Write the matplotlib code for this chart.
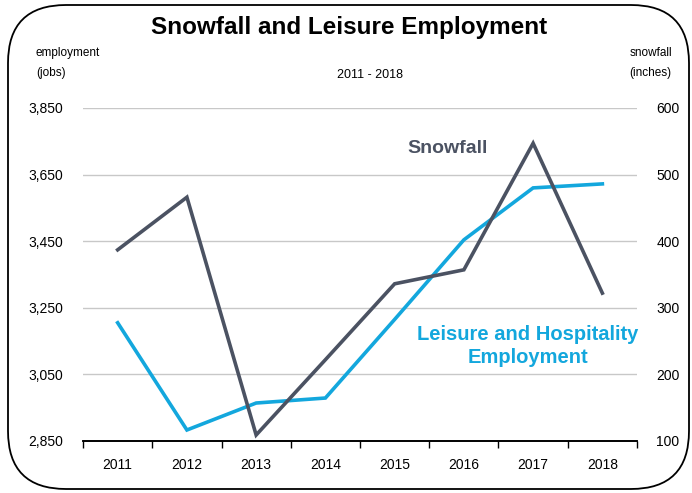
import matplotlib.pyplot as plt
from matplotlib.patches import FancyBboxPatch
from matplotlib.transforms import IdentityTransform
import numpy as np

#chart data
years = ['2011', '2012', '2013', '2014', '2015', '2016', '2017', '2018']
employment = [3205, 2883, 2964, 2979, 3215, 3454, 3610, 3622]  #jobs
snowfall = [387, 466, 109, 222, 336, 357, 547, 322]  #inches
emp_ticks = [2850, 3050, 3250, 3450, 3650, 3850]
snow_ticks = [100, 200, 300, 400, 500, 600]

cyan = '#13a7dd'
slate = '#4b5262'
plt.rcParams['font.family'] = ['Liberation Sans Narrow', 'Liberation Sans', 'DejaVu Sans']

fig = plt.figure(figsize=(6.92, 4.93), dpi=100)

#rounded frame round the whole chart (pixel coordinates)
frame = FancyBboxPatch((8, 4), 681, 484,
                       boxstyle='round,pad=0,rounding_size=58',
                       transform=IdentityTransform(), facecolor='none',
                       edgecolor='black', linewidth=1.3, zorder=5)
fig.patches.append(frame)

ax1 = fig.add_axes([0.12, 0.1055, 0.8005, 0.6755])
ax1.patch.set_alpha(0)
ax2 = ax1.twinx()

x = np.arange(len(years))

#gridlines
for t in emp_ticks[1:]:
    ax1.axhline(t, color='#c8c8c8', linewidth=1.0, zorder=1)

ax1.plot(x, employment, color=cyan, linewidth=2.6, solid_joinstyle='miter', zorder=3)
ax2.plot(x, snowfall, color=slate, linewidth=2.6, solid_joinstyle='miter', zorder=3)

ax1.set_xlim(-0.5, 7.5)
ax1.set_ylim(2850, 3850)
ax2.set_ylim(100, 600)

ax1.set_yticks(emp_ticks)
ax1.set_yticklabels(['{:,}'.format(t) for t in emp_ticks])
ax2.set_yticks(snow_ticks)
ax2.set_yticklabels([str(t) for t in snow_ticks])

ax1.set_xticks(x)
ax1.set_xticklabels(years)
ax1.set_xticks(np.arange(-0.5, 8.0, 1.0), minor=True)
ax1.tick_params(axis='x', which='major', length=0, pad=12, labelsize=10)
ax1.tick_params(axis='x', which='minor', length=5, width=1, direction='out', color='black')
ax1.tick_params(axis='y', length=0, pad=14, labelsize=10)
ax2.tick_params(axis='y', length=0, pad=14, labelsize=10)

for ax in (ax1, ax2):
    for side in ('top', 'left', 'right'):
        ax.spines[side].set_visible(False)
    ax.spines['bottom'].set_color('black')
    ax.spines['bottom'].set_linewidth(1.2)

#titles and axis captions
fig.text(0.505, 0.945, 'Snowfall and Leisure Employment', ha='center', va='center',
         fontsize=17.5, fontweight='bold')
fig.text(0.535, 0.848, '2011 - 2018', ha='center', va='center', fontsize=9)
fig.text(0.052, 0.905, 'employment\n(jobs)', ha='left', va='top', fontsize=8.5, linespacing=1.95)
fig.text(0.94, 0.905, 'snowfall\n(inches)', ha='center', va='top', fontsize=8.5,
         linespacing=1.95, multialignment='center')

#series labels
ax2.text(4.76, 539, 'Snowfall', color=slate, fontsize=14, fontweight='bold',
         ha='center', va='center')
ax1.text(5.92, 3135, 'Leisure and Hospitality\nEmployment', color=cyan, fontsize=14.5,
         fontweight='bold', ha='center', va='center', linespacing=1.3)

plt.savefig('out.png', dpi=100)
